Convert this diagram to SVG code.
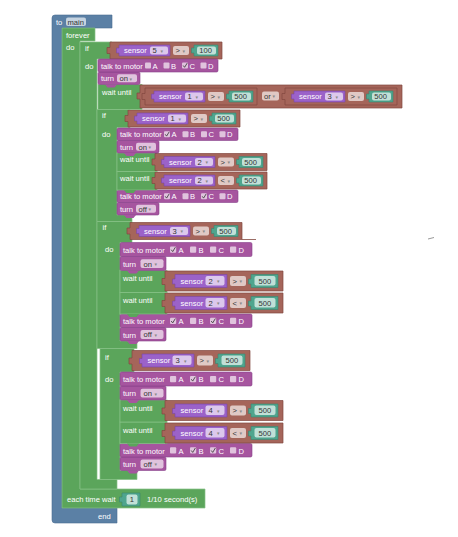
<svg xmlns="http://www.w3.org/2000/svg" width="458" height="537" viewBox="0 0 458 537">
<style>
text{font-family:"Liberation Sans",Arial,sans-serif;font-size:7.6px;fill:#fff}
.ft{fill:#333}
.ar{font-family:"DejaVu Sans",sans-serif;font-size:5px;fill:#888}
.bl{fill:#5b80a5;stroke:#496c90;stroke-width:.6}
.gr{fill:#5ba55b;stroke:#86c286;stroke-width:.7}
.gt{fill:#5ba55b}
.pu{fill:#a6559f;stroke:#86418a;stroke-width:.6}
.pt{fill:#a6559f}
.se{fill:#9b62c9;stroke:#7a45a5;stroke-width:.6}
.br{fill:#a5655a;stroke:#82483f;stroke-width:.7}
.te{fill:#4fa58e;stroke:#3a8570;stroke-width:.6}
.f{fill:#fff;fill-opacity:.65}
.ck{fill:none;stroke:#444;stroke-width:.9}
</style>
<rect width="458" height="537" fill="#fff"/>

<g id="to-main">
<path class="bl" d="M52,18Q52,15 55,15H112V28H62V508H117V523H55Q52,523 52,520Z"/>
<text x="56" y="24.8">to</text>
<rect class="f" x="66" y="17.5" width="20" height="8.5" rx="2"/>
<text class="ft" x="67.5" y="24.5">main</text>
<text x="98" y="519">end</text>
</g>

<g id="forever">
<path class="gr" d="M62,28H95V41H80V489H205V508H62Z"/>
<text x="66" y="37.5">forever</text>
<text x="66" y="50">do</text>
<text x="67" y="502">each time wait</text>
<g id="wait-num">
<path class="te" d="M122,493H140V506H122V502h-2.5v-5h2.5Z"/>
<rect class="f" x="126.5" y="494.5" width="11" height="10" rx="2"/>
<text class="ft" x="129.8" y="502.3">1</text>
</g>
<text x="147" y="502">1/10 second(s)</text>
</g>

<g id="if-s5">
<path class="gr" d="M80,42H112V59H97V479.5H117V489H80Z"/>
<text x="85" y="51">if</text>
<text x="85" y="69">do</text>
<g id="cmp-s5" transform="translate(110,42)">
<path class="br" d="M0,0H112V17H0V11.5h-3v-6h3Z"/>
<path class="se" d="M9,3H60V14H9V11h-2.5v-5h2.5Z"/>
<text x="14" y="11.3">sensor</text>
<rect class="f" x="40" y="4.5" width="18" height="8" rx="2"/>
<text class="ft" x="42.5" y="11.2">5</text><text class="ar" x="50.5" y="10.6">▾</text>
<rect class="f" x="63" y="4" width="16" height="9" rx="2"/>
<text class="ft" x="65.5" y="11.3">&gt;</text><text class="ar" x="72.5" y="10.6">▾</text>
<path class="te" d="M84,3H108V14H84V11h-2.5v-5h2.5Z"/>
<rect class="f" x="87" y="4.5" width="19" height="8" rx="2"/>
<text class="ft" x="89.2" y="11.2">100</text>
</g>
</g>

<g id="if3" transform="translate(100,348.5)">
<path class="gr" d="M0,0H34V23.5H20V122H37V131H0Z"/>
<text x="5" y="11.2">if</text>
<text x="5" y="33.5">do</text>
</g>
<g id="cmp-if3" transform="translate(132,350.5)">
<path class="br" d="M0,0H118V20H0V13.5h-3v-6h3Z"/>
<path class="se" d="M10,3.5H62V16.5H10V13h-2.5v-5h2.5Z"/>
<text x="15.5" y="12.8">sensor</text>
<rect class="f" x="40.5" y="5" width="19" height="9.5" rx="2"/>
<text class="ft" x="43.5" y="12.7">3</text><text class="ar" x="52" y="12">▾</text>
<rect class="f" x="65" y="5" width="16" height="10" rx="2"/>
<text class="ft" x="67.5" y="12.8">&gt;</text><text class="ar" x="74.5" y="12">▾</text>
<path class="te" d="M86,3.5H113V16.5H86V13h-2.5v-5h2.5Z"/>
<rect class="f" x="89.5" y="5" width="21" height="9.5" rx="2"/>
<text class="ft" x="93.5" y="12.7">500</text>
</g>
<g id="turn-off-3" transform="translate(120,457)">
<rect class="pu" width="46" height="13.5" rx="1.5"/>
<text x="3" y="10">turn</text>
<rect class="f" x="20.5" y="2.6" width="23" height="8.8" rx="2"/>
<text class="ft" x="23.5" y="9.8">off</text><text class="ar" x="34.5" y="9.3">▾</text>
<path class="pt" d="M7,13.5l2.5,3h7l2.5,-3Z"/>
</g>
<g id="talk-bc-3" transform="translate(120,443.5)">
<rect class="pu" width="132" height="13.5" rx="1.5"/>
<text x="3" y="10">talk to motor</text>
<rect class="f" x="50" y="3.8" width="6.2" height="6.2" rx="1"/><text x="58.5" y="10">A</text>
<rect class="f" x="70" y="3.8" width="6.2" height="6.2" rx="1"/><text x="78.5" y="10">B</text>
<rect class="f" x="90" y="3.8" width="6.2" height="6.2" rx="1"/><text x="98.5" y="10">C</text>
<rect class="f" x="110" y="3.8" width="6.2" height="6.2" rx="1"/><text x="118.5" y="10">D</text>
<path class="ck" d="M71.2,7l1.5,1.9l2.7,-4.4M91.2,7l1.5,1.9l2.7,-4.4"/>
</g>
<g id="wait-lt-3" transform="translate(120,422)">
<rect class="gr" width="47" height="21.5"/>
<text x="3" y="10.5">wait until</text>
<path class="gt" d="M7,21.5l2.5,3h7l2.5,-3Z"/>
<g id="cmp-lt-3" transform="translate(45,1)">
<path class="br" d="M0,0H118V20H0V13.5h-3v-6h3Z"/>
<path class="se" d="M10,3.5H62V16.5H10V13h-2.5v-5h2.5Z"/>
<text x="15.5" y="12.8">sensor</text>
<rect class="f" x="40.5" y="5" width="19" height="9.5" rx="2"/>
<text class="ft" x="43.5" y="12.7">4</text><text class="ar" x="52" y="12">▾</text>
<rect class="f" x="65" y="5" width="16" height="10" rx="2"/>
<text class="ft" x="67.5" y="12.8">&lt;</text><text class="ar" x="74.5" y="12">▾</text>
<path class="te" d="M86,3.5H113V16.5H86V13h-2.5v-5h2.5Z"/>
<rect class="f" x="89.5" y="5" width="21" height="9.5" rx="2"/>
<text class="ft" x="93.5" y="12.7">500</text>
</g>
</g>
<g id="wait-gt-3" transform="translate(120,400)">
<rect class="gr" width="47" height="22"/>
<text x="3" y="10.5">wait until</text>
<g id="cmp-gt-3" transform="translate(45,0.5)">
<path class="br" d="M0,0H118V20H0V13.5h-3v-6h3Z"/>
<path class="se" d="M10,3.5H62V16.5H10V13h-2.5v-5h2.5Z"/>
<text x="15.5" y="12.8">sensor</text>
<rect class="f" x="40.5" y="5" width="19" height="9.5" rx="2"/>
<text class="ft" x="43.5" y="12.7">4</text><text class="ar" x="52" y="12">▾</text>
<rect class="f" x="65" y="5" width="16" height="10" rx="2"/>
<text class="ft" x="67.5" y="12.8">&gt;</text><text class="ar" x="74.5" y="12">▾</text>
<path class="te" d="M86,3.5H113V16.5H86V13h-2.5v-5h2.5Z"/>
<rect class="f" x="89.5" y="5" width="21" height="9.5" rx="2"/>
<text class="ft" x="93.5" y="12.7">500</text>
</g>
</g>
<g id="turn-on-3" transform="translate(120,386)">
<rect class="pu" width="46" height="14" rx="1.5"/>
<text x="3" y="10.2">turn</text>
<rect class="f" x="20.5" y="2.8" width="23" height="8.8" rx="2"/>
<text class="ft" x="23.5" y="10">on</text><text class="ar" x="34.5" y="9.5">▾</text>
<path class="pt" d="M7,14l2.5,3h7l2.5,-3Z"/>
</g>
<g id="talk-b-3" transform="translate(120,372)">
<rect class="pu" width="132" height="14" rx="1.5"/>
<text x="3" y="10.3">talk to motor</text>
<rect class="f" x="50" y="4" width="6.2" height="6.2" rx="1"/><text x="58.5" y="10.3">A</text>
<rect class="f" x="70" y="4" width="6.2" height="6.2" rx="1"/><text x="78.5" y="10.3">B</text>
<rect class="f" x="90" y="4" width="6.2" height="6.2" rx="1"/><text x="98.5" y="10.3">C</text>
<rect class="f" x="110" y="4" width="6.2" height="6.2" rx="1"/><text x="118.5" y="10.3">D</text>
<path class="ck" d="M71.2,7.2l1.5,1.9l2.7,-4.4"/>
</g>

<g id="if2" transform="translate(97,221.5)">
<path class="gr" d="M0,0H35V21H23V119.5H40V127H0Z"/>
<text x="5.5" y="8.5">if</text>
<text x="8" y="30.5">do</text>
</g>
<g id="cmp-if2" transform="translate(130,222.5)">
<path class="br" d="M0,0H112V17H0V11.5h-3v-6h3Z"/>
<path class="se" d="M9,3H60V14H9V11h-2.5v-5h2.5Z"/>
<text x="14" y="11.3">sensor</text>
<rect class="f" x="40" y="4.5" width="18" height="8" rx="2"/>
<text class="ft" x="42.5" y="11.2">3</text><text class="ar" x="50.5" y="10.6">▾</text>
<rect class="f" x="63" y="4" width="16" height="9" rx="2"/>
<text class="ft" x="65.5" y="11.3">&gt;</text><text class="ar" x="72.5" y="10.6">▾</text>
<path class="te" d="M84,3H108V14H84V11h-2.5v-5h2.5Z"/>
<rect class="f" x="87" y="4.5" width="19" height="8" rx="2"/>
<text class="ft" x="89.2" y="11.2">500</text>
<path d="M112,17H126" stroke="#82483f" stroke-width=".8"/>
</g>
<g id="turn-off-2" transform="translate(120,327.5)">
<rect class="pu" width="46" height="13.5" rx="1.5"/>
<text x="3" y="10">turn</text>
<rect class="f" x="20.5" y="2.6" width="23" height="8.8" rx="2"/>
<text class="ft" x="23.5" y="9.8">off</text><text class="ar" x="34.5" y="9.3">▾</text>
<path class="pt" d="M7,13.5l2.5,3h7l2.5,-3Z"/>
</g>
<g id="talk-ac-2" transform="translate(120,314)">
<rect class="pu" width="132" height="13.5" rx="1.5"/>
<text x="3" y="10">talk to motor</text>
<rect class="f" x="50" y="3.8" width="6.2" height="6.2" rx="1"/><text x="58.5" y="10">A</text>
<rect class="f" x="70" y="3.8" width="6.2" height="6.2" rx="1"/><text x="78.5" y="10">B</text>
<rect class="f" x="90" y="3.8" width="6.2" height="6.2" rx="1"/><text x="98.5" y="10">C</text>
<rect class="f" x="110" y="3.8" width="6.2" height="6.2" rx="1"/><text x="118.5" y="10">D</text>
<path class="ck" d="M51.2,7l1.5,1.9l2.7,-4.4M91.2,7l1.5,1.9l2.7,-4.4"/>
</g>
<g id="wait-lt-2" transform="translate(120,292.5)">
<rect class="gr" width="47" height="21.5"/>
<text x="3" y="10.5">wait until</text>
<path class="gt" d="M7,21.5l2.5,3h7l2.5,-3Z"/>
<g id="cmp-lt-2" transform="translate(45,0.5)">
<path class="br" d="M0,0H118V20H0V13.5h-3v-6h3Z"/>
<path class="se" d="M10,3.5H62V16.5H10V13h-2.5v-5h2.5Z"/>
<text x="15.5" y="12.8">sensor</text>
<rect class="f" x="40.5" y="5" width="19" height="9.5" rx="2"/>
<text class="ft" x="43.5" y="12.7">2</text><text class="ar" x="52" y="12">▾</text>
<rect class="f" x="65" y="5" width="16" height="10" rx="2"/>
<text class="ft" x="67.5" y="12.8">&lt;</text><text class="ar" x="74.5" y="12">▾</text>
<path class="te" d="M86,3.5H113V16.5H86V13h-2.5v-5h2.5Z"/>
<rect class="f" x="89.5" y="5" width="21" height="9.5" rx="2"/>
<text class="ft" x="93.5" y="12.7">500</text>
</g>
</g>
<g id="wait-gt-2" transform="translate(120,270.5)">
<rect class="gr" width="47" height="22"/>
<text x="3" y="10.5">wait until</text>
<g id="cmp-gt-2" transform="translate(45,0.5)">
<path class="br" d="M0,0H118V20H0V13.5h-3v-6h3Z"/>
<path class="se" d="M10,3.5H62V16.5H10V13h-2.5v-5h2.5Z"/>
<text x="15.5" y="12.8">sensor</text>
<rect class="f" x="40.5" y="5" width="19" height="9.5" rx="2"/>
<text class="ft" x="43.5" y="12.7">2</text><text class="ar" x="52" y="12">▾</text>
<rect class="f" x="65" y="5" width="16" height="10" rx="2"/>
<text class="ft" x="67.5" y="12.8">&gt;</text><text class="ar" x="74.5" y="12">▾</text>
<path class="te" d="M86,3.5H113V16.5H86V13h-2.5v-5h2.5Z"/>
<rect class="f" x="89.5" y="5" width="21" height="9.5" rx="2"/>
<text class="ft" x="93.5" y="12.7">500</text>
</g>
</g>
<g id="turn-on-2" transform="translate(120,256.5)">
<rect class="pu" width="46" height="14" rx="1.5"/>
<text x="3" y="10.2">turn</text>
<rect class="f" x="20.5" y="2.8" width="23" height="8.8" rx="2"/>
<text class="ft" x="23.5" y="10">on</text><text class="ar" x="34.5" y="9.5">▾</text>
<path class="pt" d="M7,14l2.5,3h7l2.5,-3Z"/>
</g>
<g id="talk-a-2" transform="translate(120,242.5)">
<rect class="pu" width="132" height="14" rx="1.5"/>
<text x="3" y="10.3">talk to motor</text>
<rect class="f" x="50" y="4" width="6.2" height="6.2" rx="1"/><text x="58.5" y="10.3">A</text>
<rect class="f" x="70" y="4" width="6.2" height="6.2" rx="1"/><text x="78.5" y="10.3">B</text>
<rect class="f" x="90" y="4" width="6.2" height="6.2" rx="1"/><text x="98.5" y="10.3">C</text>
<rect class="f" x="110" y="4" width="6.2" height="6.2" rx="1"/><text x="118.5" y="10.3">D</text>
<path class="ck" d="M51.2,7.2l1.5,1.9l2.7,-4.4"/>
</g>

<g id="if1" transform="translate(97,109.5)">
<path class="gr" d="M0,0H33V18H20V105.5H35V112H0Z"/>
<text x="5" y="8">if</text>
<text x="5" y="27">do</text>
</g>
<g id="cmp-if1" transform="translate(128,110)">
<path class="br" d="M0,0H112V17H0V11.5h-3v-6h3Z"/>
<path class="se" d="M9,3H60V14H9V11h-2.5v-5h2.5Z"/>
<text x="14" y="11.3">sensor</text>
<rect class="f" x="40" y="4.5" width="18" height="8" rx="2"/>
<text class="ft" x="42.5" y="11.2">1</text><text class="ar" x="50.5" y="10.6">▾</text>
<rect class="f" x="63" y="4" width="16" height="9" rx="2"/>
<text class="ft" x="65.5" y="11.3">&gt;</text><text class="ar" x="72.5" y="10.6">▾</text>
<path class="te" d="M84,3H108V14H84V11h-2.5v-5h2.5Z"/>
<rect class="f" x="87" y="4.5" width="19" height="8" rx="2"/>
<text class="ft" x="89.2" y="11.2">500</text>
</g>
<g id="turn-off-1" transform="translate(117,202.5)">
<rect class="pu" width="42" height="12.5" rx="1.5"/>
<text x="3" y="9.3">turn</text>
<rect class="f" x="19" y="2.3" width="20" height="8" rx="2"/>
<text class="ft" x="21.5" y="9">off</text><text class="ar" x="31.5" y="8.6">▾</text>
<path class="pt" d="M7,12.5l2.5,3h7l2.5,-3Z"/>
</g>
<g id="talk-ac-1" transform="translate(117,190)">
<rect class="pu" width="121" height="12.5" rx="1.5"/>
<text x="3" y="9.3">talk to motor</text>
<rect class="f" x="47" y="3.3" width="6" height="6" rx="1"/><text x="54.5" y="9.3">A</text>
<rect class="f" x="65.5" y="3.3" width="6" height="6" rx="1"/><text x="73" y="9.3">B</text>
<rect class="f" x="84" y="3.3" width="6" height="6" rx="1"/><text x="91.5" y="9.3">C</text>
<rect class="f" x="102.5" y="3.3" width="6" height="6" rx="1"/><text x="110" y="9.3">D</text>
<path class="ck" d="M48.2,6.3l1.4,1.8l2.6,-4.2M85.2,6.3l1.4,1.8l2.6,-4.2"/>
</g>
<g id="wait-lt-1" transform="translate(117,171.5)">
<rect class="gr" width="40" height="18.5"/>
<text x="3" y="9.3">wait until</text>
<path class="gt" d="M7,18.5l2.5,3h7l2.5,-3Z"/>
<g id="cmp-lt-1" transform="translate(38,0.5)">
<path class="br" d="M0,0H112V17H0V11.5h-3v-6h3Z"/>
<path class="se" d="M9,3H60V14H9V11h-2.5v-5h2.5Z"/>
<text x="14" y="11.3">sensor</text>
<rect class="f" x="40" y="4.5" width="18" height="8" rx="2"/>
<text class="ft" x="42.5" y="11.2">2</text><text class="ar" x="50.5" y="10.6">▾</text>
<rect class="f" x="63" y="4" width="16" height="9" rx="2"/>
<text class="ft" x="65.5" y="11.3">&lt;</text><text class="ar" x="72.5" y="10.6">▾</text>
<path class="te" d="M84,3H108V14H84V11h-2.5v-5h2.5Z"/>
<rect class="f" x="87" y="4.5" width="19" height="8" rx="2"/>
<text class="ft" x="89.2" y="11.2">500</text>
</g>
</g>
<g id="wait-gt-1" transform="translate(117,153)">
<rect class="gr" width="40" height="18.5"/>
<text x="3" y="9.3">wait until</text>
<g id="cmp-gt-1" transform="translate(38,0.5)">
<path class="br" d="M0,0H112V17H0V11.5h-3v-6h3Z"/>
<path class="se" d="M9,3H60V14H9V11h-2.5v-5h2.5Z"/>
<text x="14" y="11.3">sensor</text>
<rect class="f" x="40" y="4.5" width="18" height="8" rx="2"/>
<text class="ft" x="42.5" y="11.2">2</text><text class="ar" x="50.5" y="10.6">▾</text>
<rect class="f" x="63" y="4" width="16" height="9" rx="2"/>
<text class="ft" x="65.5" y="11.3">&gt;</text><text class="ar" x="72.5" y="10.6">▾</text>
<path class="te" d="M84,3H108V14H84V11h-2.5v-5h2.5Z"/>
<rect class="f" x="87" y="4.5" width="19" height="8" rx="2"/>
<text class="ft" x="89.2" y="11.2">500</text>
</g>
</g>
<g id="turn-on-1" transform="translate(117,140.5)">
<rect class="pu" width="42" height="12.5" rx="1.5"/>
<text x="3" y="9.3">turn</text>
<rect class="f" x="19" y="2.3" width="20" height="8" rx="2"/>
<text class="ft" x="21.5" y="9">on</text><text class="ar" x="31.5" y="8.6">▾</text>
<path class="pt" d="M7,12.5l2.5,3h7l2.5,-3Z"/>
</g>
<g id="talk-a-1" transform="translate(117,128)">
<rect class="pu" width="121" height="12.5" rx="1.5"/>
<text x="3" y="9.3">talk to motor</text>
<rect class="f" x="47" y="3.3" width="6" height="6" rx="1"/><text x="54.5" y="9.3">A</text>
<rect class="f" x="65.5" y="3.3" width="6" height="6" rx="1"/><text x="73" y="9.3">B</text>
<rect class="f" x="84" y="3.3" width="6" height="6" rx="1"/><text x="91.5" y="9.3">C</text>
<rect class="f" x="102.5" y="3.3" width="6" height="6" rx="1"/><text x="110" y="9.3">D</text>
<path class="ck" d="M48.2,6.3l1.4,1.8l2.6,-4.2"/>
</g>

<g id="wait-or" transform="translate(98,84.5)">
<rect class="gr" width="44" height="25"/>
<text x="4" y="10">wait until</text>
<g id="or-block" transform="translate(42,0.5)">
<path class="br" d="M0,0H262V23H0V14h-3v-6h3Z"/>
<g id="cmp-or-1" transform="translate(5,3)">
<path class="br" d="M0,0H112V17H0V11.5h-3v-6h3Z"/>
<path class="se" d="M9,3H60V14H9V11h-2.5v-5h2.5Z"/>
<text x="14" y="11.3">sensor</text>
<rect class="f" x="40" y="4.5" width="18" height="8" rx="2"/>
<text class="ft" x="42.5" y="11.2">1</text><text class="ar" x="50.5" y="10.6">▾</text>
<rect class="f" x="63" y="4" width="16" height="9" rx="2"/>
<text class="ft" x="65.5" y="11.3">&gt;</text><text class="ar" x="72.5" y="10.6">▾</text>
<path class="te" d="M84,3H108V14H84V11h-2.5v-5h2.5Z"/>
<rect class="f" x="87" y="4.5" width="19" height="8" rx="2"/>
<text class="ft" x="89.2" y="11.2">500</text>
</g>
<rect class="f" x="122" y="6.5" width="17" height="9" rx="2"/>
<text class="ft" x="124" y="13.6">or</text><text class="ar" x="132.5" y="13">▾</text>
<g id="cmp-or-2" transform="translate(145,3)">
<path class="br" d="M0,0H112V17H0V11.5h-3v-6h3Z"/>
<path class="se" d="M9,3H60V14H9V11h-2.5v-5h2.5Z"/>
<text x="14" y="11.3">sensor</text>
<rect class="f" x="40" y="4.5" width="18" height="8" rx="2"/>
<text class="ft" x="42.5" y="11.2">3</text><text class="ar" x="50.5" y="10.6">▾</text>
<rect class="f" x="63" y="4" width="16" height="9" rx="2"/>
<text class="ft" x="65.5" y="11.3">&gt;</text><text class="ar" x="72.5" y="10.6">▾</text>
<path class="te" d="M84,3H108V14H84V11h-2.5v-5h2.5Z"/>
<rect class="f" x="87" y="4.5" width="19" height="8" rx="2"/>
<text class="ft" x="89.2" y="11.2">500</text>
</g>
</g>
</g>
<g id="turn-on-0" transform="translate(98,72)">
<rect class="pu" width="42" height="12.5" rx="1.5"/>
<text x="3" y="9.3">turn</text>
<rect class="f" x="19" y="2.3" width="20" height="8" rx="2"/>
<text class="ft" x="21.5" y="9">on</text><text class="ar" x="31.5" y="8.6">▾</text>
<path class="pt" d="M7,12.5l2.5,3h7l2.5,-3Z"/>
</g>
<g id="talk-c-0" transform="translate(98,59)">
<rect class="pu" width="120" height="13" rx="1.5"/>
<text x="3" y="9.5">talk to motor</text>
<rect class="f" x="47" y="3.5" width="6" height="6" rx="1"/><text x="54.5" y="9.5">A</text>
<rect class="f" x="65.5" y="3.5" width="6" height="6" rx="1"/><text x="73" y="9.5">B</text>
<rect class="f" x="84" y="3.5" width="6" height="6" rx="1"/><text x="91.5" y="9.5">C</text>
<rect class="f" x="102.5" y="3.5" width="6" height="6" rx="1"/><text x="110" y="9.5">D</text>
<path class="ck" d="M85.2,6.5l1.4,1.8l2.6,-4.2"/>
</g>

<line x1="428" y1="239" x2="434" y2="237.5" stroke="#999" stroke-width="1"/>
</svg>
